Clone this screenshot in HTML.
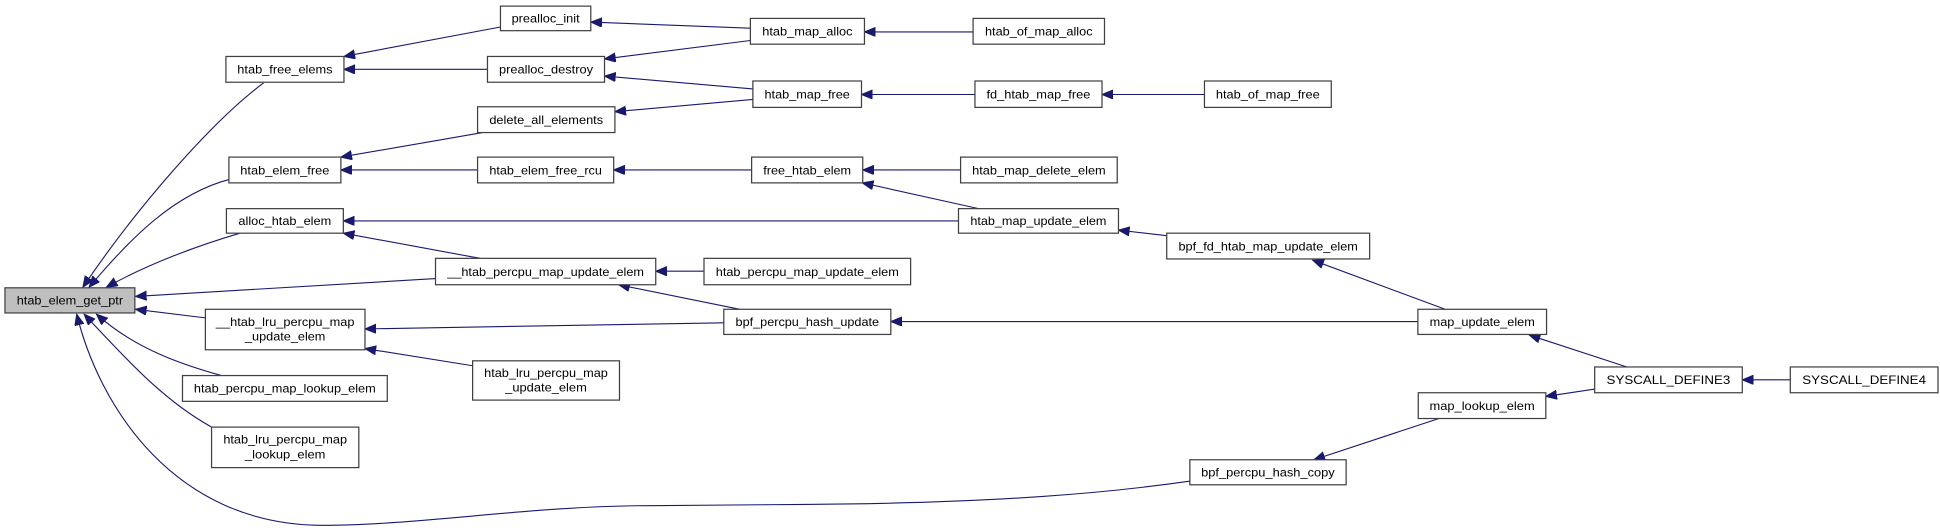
<!DOCTYPE html>
<html><head><meta charset="utf-8"><style>
html,body{margin:0;padding:0;background:#fff;}
svg{display:block;}
text{font-family:"Liberation Sans",Arial,sans-serif;font-size:10px;fill:#000;}
rect{fill:#fff;stroke:#404040;stroke-width:1;}
path{fill:none;stroke:#191970;stroke-width:0.9;}
</style></head><body>
<svg width="1940" height="532" viewBox="0 0 1568 430" preserveAspectRatio="none" xmlns="http://www.w3.org/2000/svg">
<defs>
<marker id="a" markerWidth="10" markerHeight="8" refX="9" refY="3.75" orient="auto" markerUnits="userSpaceOnUse">
<path d="M0,0 L9,3.75 L0,7.5 Z" style="fill:#191970;stroke:#191970;stroke-width:0.8"/>
</marker>
</defs>
<g transform="scale(1,0.992)">
<g marker-end="url(#a)">
<path d="M404.5,22 L278,46"/>
<path d="M394,56.5 L278,56.5"/>
<path d="M606.5,23 L477.5,18"/>
<path d="M606.5,33 L488.6,48"/>
<path d="M608.5,72.5 L488.6,62"/>
<path d="M608.5,81 L497,91"/>
<path d="M786.5,26 L698.7,26"/>
<path d="M788,77 L696.3,77"/>
<path d="M973.5,77 L890.7,77"/>
<path d="M390,108 L275.5,128"/>
<path d="M386,138.5 L275.5,138.5"/>
<path d="M607.5,138.5 L496,138.5"/>
<path d="M776.4,138.5 L697.3,138.5"/>
<path d="M791,170 L697,149"/>
<path d="M774.7,180 L277.5,180"/>
<path d="M388,210.5 L277.5,190"/>
<path d="M943,192 L904,187.5"/>
<path d="M1168,252 L1061,212"/>
<path d="M1146,262 L720,262"/>
<path d="M569,221 L530,221"/>
<path d="M598,252 L500,232"/>
<path d="M585,263 L295,268"/>
<path d="M382,298 L295,284"/>
<path d="M1315,299 L1236,273"/>
<path d="M1289,317 L1249.4,323"/>
<path d="M1447,309.5 L1408.2,309.5"/>
<path d="M1163,341 L1062,374.6"/>
<path d="M213,67.6 C170,100 110,170 67,234"/>
<path d="M186,146 C140,158 105,195 72,234"/>
<path d="M194,190 C160,200 120,215 86,234"/>
<path d="M352,227 L109.5,241.5"/>
<path d="M166,259 L109.5,252"/>
<path d="M179,306 C150,298 110,285 78,256"/>
<path d="M171,348 C130,325 100,290 68,256"/>
<path d="M962,392 C900,401 810,410 650,411 L525,412 C430,412 340,428 261,428 C140,428 80,330 62,256"/>
</g>
<g text-anchor="middle">
<rect x="4" y="234.5" width="105" height="20.5" style="fill:#bfbfbf"/><text x="56.5" y="248.3" textLength="86" lengthAdjust="spacingAndGlyphs">htab_elem_get_ptr</text>
<rect x="182.6" y="46" width="95.4" height="21"/><text x="230.3" y="60" textLength="77" lengthAdjust="spacingAndGlyphs">htab_free_elems</text>
<rect x="185" y="128" width="90.5" height="21"/><text x="230.2" y="142" textLength="72" lengthAdjust="spacingAndGlyphs">htab_elem_free</text>
<rect x="183" y="170" width="94.5" height="20"/><text x="230.2" y="183.5" textLength="75" lengthAdjust="spacingAndGlyphs">alloc_htab_elem</text>
<rect x="166" y="252" width="129" height="33"/><text x="230.5" y="265.5" textLength="112" lengthAdjust="spacingAndGlyphs">__htab_lru_percpu_map</text><text x="230.5" y="277.5" textLength="65" lengthAdjust="spacingAndGlyphs">_update_elem</text>
<rect x="147.5" y="306" width="165.5" height="21"/><text x="230.2" y="320" textLength="147" lengthAdjust="spacingAndGlyphs">htab_percpu_map_lookup_elem</text>
<rect x="171" y="348" width="119" height="33"/><text x="230.5" y="361.5" textLength="100" lengthAdjust="spacingAndGlyphs">htab_lru_percpu_map</text><text x="230.5" y="373.5" textLength="65" lengthAdjust="spacingAndGlyphs">_lookup_elem</text>
<rect x="404.5" y="5" width="73" height="20"/><text x="441" y="18.5" textLength="55" lengthAdjust="spacingAndGlyphs">prealloc_init</text>
<rect x="394" y="46" width="94.6" height="21"/><text x="441.3" y="60" textLength="76" lengthAdjust="spacingAndGlyphs">prealloc_destroy</text>
<rect x="386" y="87" width="111" height="21"/><text x="441.5" y="101" textLength="92" lengthAdjust="spacingAndGlyphs">delete_all_elements</text>
<rect x="386" y="128" width="110" height="21"/><text x="441" y="142" textLength="91" lengthAdjust="spacingAndGlyphs">htab_elem_free_rcu</text>
<rect x="352" y="210.5" width="178" height="21.5"/><text x="441" y="224.7" textLength="159" lengthAdjust="spacingAndGlyphs">__htab_percpu_map_update_elem</text>
<rect x="382" y="294" width="118.7" height="32"/><text x="441.3" y="307" textLength="100" lengthAdjust="spacingAndGlyphs">htab_lru_percpu_map</text><text x="441.3" y="319" textLength="66" lengthAdjust="spacingAndGlyphs">_update_elem</text>
<rect x="606.5" y="15" width="92.2" height="21"/><text x="652.6" y="29" textLength="73" lengthAdjust="spacingAndGlyphs">htab_map_alloc</text>
<rect x="608.5" y="66" width="87.8" height="21.5"/><text x="652.4" y="80.3" textLength="69" lengthAdjust="spacingAndGlyphs">htab_map_free</text>
<rect x="607.5" y="128" width="89.8" height="21"/><text x="652.4" y="142" textLength="71" lengthAdjust="spacingAndGlyphs">free_htab_elem</text>
<rect x="774.7" y="170" width="129.3" height="20"/><text x="839.3" y="183.5" textLength="110" lengthAdjust="spacingAndGlyphs">htab_map_update_elem</text>
<rect x="569" y="210.5" width="167" height="21.5"/><text x="652.5" y="224.7" textLength="148" lengthAdjust="spacingAndGlyphs">htab_percpu_map_update_elem</text>
<rect x="585" y="252" width="135" height="20.5"/><text x="652.5" y="265.8" textLength="116" lengthAdjust="spacingAndGlyphs">bpf_percpu_hash_update</text>
<rect x="786.5" y="15" width="106.2" height="21"/><text x="839.6" y="29" textLength="87" lengthAdjust="spacingAndGlyphs">htab_of_map_alloc</text>
<rect x="788" y="66" width="102.7" height="21.5"/><text x="839.3" y="80.3" textLength="84" lengthAdjust="spacingAndGlyphs">fd_htab_map_free</text>
<rect x="776.4" y="128" width="126.6" height="21"/><text x="839.7" y="142" textLength="108" lengthAdjust="spacingAndGlyphs">htab_map_delete_elem</text>
<rect x="943" y="190" width="164" height="21"/><text x="1025" y="204" textLength="145" lengthAdjust="spacingAndGlyphs">bpf_fd_htab_map_update_elem</text>
<rect x="961.7" y="374.6" width="126.3" height="20.4"/><text x="1024.8" y="388.3" textLength="108" lengthAdjust="spacingAndGlyphs">bpf_percpu_hash_copy</text>
<rect x="973.5" y="66" width="102.5" height="21.5"/><text x="1024.7" y="80.3" textLength="84" lengthAdjust="spacingAndGlyphs">htab_of_map_free</text>
<rect x="1146" y="252" width="104" height="20.5"/><text x="1198" y="265.8" textLength="85" lengthAdjust="spacingAndGlyphs">map_update_elem</text>
<rect x="1146.3" y="320" width="103.1" height="21"/><text x="1197.9" y="334" textLength="85" lengthAdjust="spacingAndGlyphs">map_lookup_elem</text>
<rect x="1288.9" y="299" width="119.3" height="21"/><text x="1348.5" y="313" textLength="100" lengthAdjust="spacingAndGlyphs">SYSCALL_DEFINE3</text>
<rect x="1447" y="299" width="119.4" height="21"/><text x="1506.7" y="313" textLength="100" lengthAdjust="spacingAndGlyphs">SYSCALL_DEFINE4</text>
</g>
</g>
</svg>
</body></html>
